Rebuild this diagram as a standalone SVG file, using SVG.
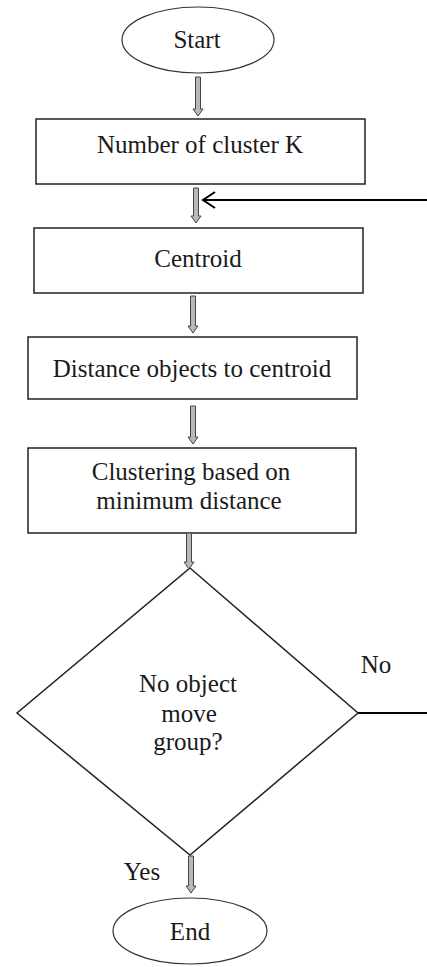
<svg xmlns="http://www.w3.org/2000/svg" width="427" height="967" viewBox="0 0 427 967" font-family="'Liberation Serif', 'DejaVu Serif', serif">
<style>
.shape{fill:#fff;stroke:#222;stroke-width:1.5}
.term{fill:#fff;stroke:#333;stroke-width:1.2}
.t{font-family:'Liberation Serif','DejaVu Serif',serif;font-size:25px;fill:#1a1a1a;text-anchor:middle}
.blk{fill:#b8b8b8;stroke:#444;stroke-width:1}
.line{fill:none;stroke:#000;stroke-width:2}
</style>
<rect width="427" height="967" fill="#fff"/>
<g id="start">
<ellipse class="term" cx="198" cy="40" rx="76" ry="33"/>
<text class="t" x="197" y="48">Start</text>
</g>
<g id="k">
<rect class="shape" x="36" y="119" width="329" height="65"/>
<text class="t" x="200" y="153">Number of cluster K</text>
</g>
<g id="centroid">
<rect class="shape" x="34" y="228" width="329" height="65"/>
<text class="t" x="198" y="267">Centroid</text>
</g>
<g id="distance">
<rect class="shape" x="28" y="337" width="329" height="62"/>
<text class="t" x="192" y="377">Distance objects to centroid</text>
</g>
<g id="clustering">
<rect class="shape" x="28" y="448" width="328" height="85"/>
<text class="t" x="191" y="480">Clustering based on</text>
<text class="t" x="189" y="509">minimum distance</text>
</g>
<g id="decision">
<polygon class="shape" points="190,568 358,713 190,855 17,713"/>
<text class="t" x="188" y="692">No object</text>
<text class="t" x="189" y="722">move</text>
<text class="t" x="188" y="750">group?</text>
</g>
<g id="end">
<ellipse class="term" cx="190" cy="931" rx="77" ry="33"/>
<text class="t" x="190" y="940">End</text>
</g>
<g id="connectors">
<path class="blk" d="M195.5,77 H200.5 V109 H203 L198,116 L193,109 H195.5 Z"/>
<path class="blk" d="M193.5,188 H198.5 V216 H201 L196,223 L191,216 H193.5 Z"/>
<path class="blk" d="M190.5,296 H195.5 V326 H198 L193,333 L188,326 H190.5 Z"/>
<path class="blk" d="M190.5,406 H195.5 V437 H198 L193,444 L188,437 H190.5 Z"/>
<path class="blk" d="M186.5,533 H191.5 V562 H194 L189,569 L184,562 H186.5 Z"/>
<path class="blk" d="M188.5,856 H193.5 V886 H196 L191,893 L186,886 H188.5 Z"/>
<line class="line" x1="358" y1="713" x2="427" y2="713"/>
<line class="line" x1="427" y1="200" x2="203" y2="200"/>
<polyline class="line" points="215,192 203,200 215,208"/>
<text class="t" x="376" y="673">No</text>
<text class="t" x="142" y="880">Yes</text>
</g>
</svg>
